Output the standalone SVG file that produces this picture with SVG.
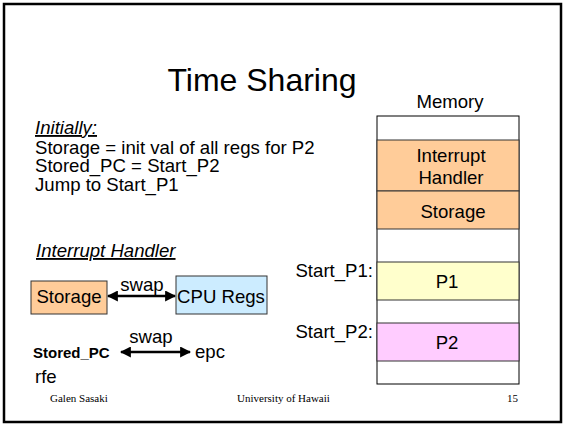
<svg xmlns="http://www.w3.org/2000/svg" width="564" height="427" viewBox="0 0 564 427">
<defs>
<style>
text{font-family:"Liberation Sans",Arial,sans-serif;fill:#000}
.t18{font-size:18.6px}
.ser{font-family:"Liberation Serif","Times New Roman",serif;font-size:11px}
.box{stroke:#333;stroke-width:1}
.mem{stroke:#333;stroke-width:1}
.conn{stroke:#000;stroke-width:2.5;fill:none}
</style>
<marker id="ah" viewBox="0 0 10 10" refX="9" refY="5" markerWidth="4.4" markerHeight="4.4" orient="auto-start-reverse" markerUnits="strokeWidth">
<path d="M0,0 L10,5 L0,10 z" fill="#000"/>
</marker>
</defs>
<rect x="0" y="0" width="564" height="427" fill="#fff"/>
<rect id="frame" x="4" y="4" width="557" height="418" fill="#fff" stroke="#000" stroke-width="2.5"/>

<g id="title"><text x="262" y="91" font-size="32" text-anchor="middle">Time Sharing</text></g>

<g id="initially">
<text x="35" y="134" class="t18" font-style="italic" text-decoration="underline">Initially:</text>
<text x="35" y="153.5" class="t18">Storage = init val of all regs for P2</text>
<text x="35" y="172" class="t18">Stored_PC = Start_P2</text>
<text x="35" y="190.5" class="t18">Jump to Start_P1</text>
</g>

<g id="handler-label"><text x="36" y="257" class="t18" font-style="italic" text-decoration="underline">Interrupt Handler</text></g>

<g id="storage-box">
<rect x="31" y="281" width="76" height="33" fill="#FFCC99" class="box"/>
<text x="69" y="303" class="t18" text-anchor="middle">Storage</text>
</g>
<g id="cpu-regs">
<rect x="176" y="276" width="91" height="38" fill="#CCECFF" class="box"/>
<text x="221" y="303" class="t18" text-anchor="middle">CPU Regs</text>
</g>
<g id="stored-pc"><text x="33" y="358" font-size="15" font-weight="bold">Stored_PC</text></g>
<g id="epc"><text x="195" y="358" class="t18">epc</text></g>
<g id="rfe"><text x="35" y="383" class="t18">rfe</text></g>

<g id="connectors">
<line x1="108" y1="296" x2="175" y2="296" class="conn" marker-start="url(#ah)" marker-end="url(#ah)"/>
<text x="142" y="291" class="t18" text-anchor="middle">swap</text>
<line x1="121" y1="352" x2="190" y2="352" class="conn" marker-start="url(#ah)" marker-end="url(#ah)"/>
<text x="151" y="343" class="t18" text-anchor="middle">swap</text>
</g>

<g id="memory">
<text x="450" y="108" class="t18" text-anchor="middle">Memory</text>
<rect x="377" y="116" width="142" height="268" fill="#fff" stroke="#000" stroke-width="1"/>
<g id="mem-handler">
<rect x="377" y="140" width="142" height="51" fill="#FFCC99" class="mem"/>
<text x="451" y="162" class="t18" text-anchor="middle">Interrupt</text>
<text x="451" y="184" class="t18" text-anchor="middle">Handler</text>
</g>
<g id="mem-storage">
<rect x="377" y="191" width="142" height="38" fill="#FFCC99" class="mem"/>
<text x="453" y="218" class="t18" text-anchor="middle">Storage</text>
</g>
<g id="mem-p1">
<rect x="377" y="262" width="142" height="38" fill="#FFFFCC" class="mem"/>
<text x="447" y="288" class="t18" text-anchor="middle">P1</text>
</g>
<g id="mem-p2">
<rect x="377" y="323" width="142" height="38" fill="#FFCCFF" class="mem"/>
<text x="447" y="349" class="t18" text-anchor="middle">P2</text>
</g>
<text x="373" y="277" class="t18" text-anchor="end">Start_P1:</text>
<text x="373" y="338" class="t18" text-anchor="end">Start_P2:</text>
</g>

<g id="footer">
<text x="50" y="402" class="ser">Galen Sasaki</text>
<text x="237" y="402" class="ser">University of Hawaii</text>
<text x="507" y="402" class="ser">15</text>
</g>
</svg>
